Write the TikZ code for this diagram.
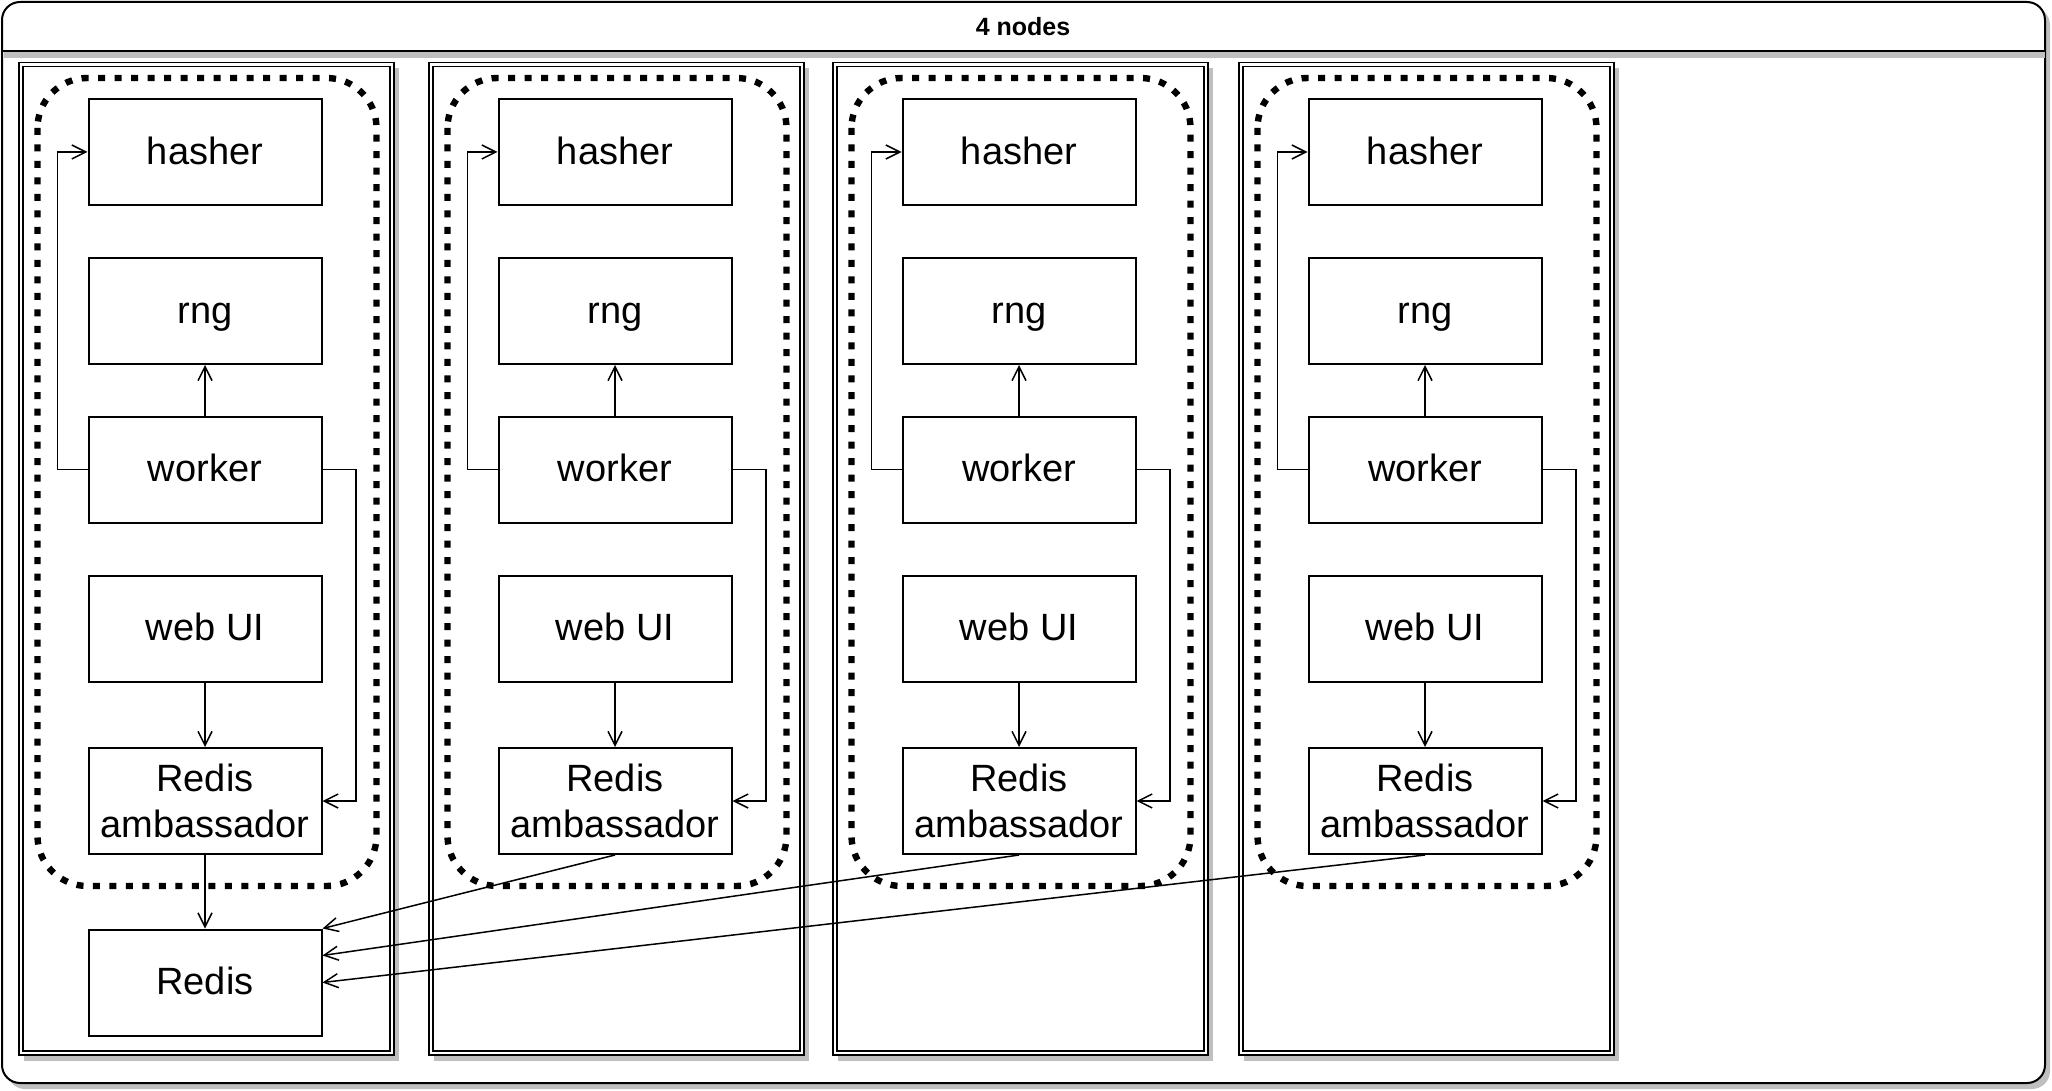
\documentclass[tikz,border=0pt]{standalone}
\usepackage{fontspec}
\setmainfont{Liberation Sans}
\usetikzlibrary{arrows.meta,calc}
\definecolor{shadowgray}{RGB}{191,191,191}
\begin{document}
\begin{tikzpicture}[x=0.5pt,y=-0.5pt,
  svc/.style={draw, line width=1pt, fill=white, minimum width=116.5pt, minimum height=53pt,
    inner sep=0pt, align=center, font=\fontsize{19}{22.6}\selectfont},
  oneline/.style={text height=14.2pt, text depth=2pt},
  conn/.style={line width=0.75pt, -{Straight Barb[length=7pt,width=7pt,line width=0.75pt]}},
  pod/.style={line width=3.2pt, dash pattern=on 3.5pt off 4.75pt, rounded corners=25pt},
  hostline/.style={line width=0.8pt},
  lane/.style={line width=1pt, rounded corners=9pt}]
\useasboundingbox (0,0) rectangle (2052,1091);
% outer swimlane
\fill[shadowgray, rounded corners=9pt] (7,7) rectangle (2050,1089);
\draw[lane, fill=white] (2,2) rectangle (2045,1083);
\fill[shadowgray] (4,51) rectangle (2045,58);
\draw[line width=1pt] (2,51) -- (2045,51);
\node[font=\bfseries\fontsize{12.5}{15}\selectfont] (title) at (1023,27) {4 nodes};
% hosts
\foreach \bx [count=\i] in {205,615,1019,1425} {
  \fill[shadowgray] (\bx-181,68.5) rectangle (\bx+194,1061);
  \draw[hostline, fill=white] (\bx-186,62.5) rectangle (\bx+189,1055);
  \draw[hostline] (\bx-182,66.5) rectangle (\bx+185,1051);
  \draw[pod] (\bx-167.5,78) rectangle (\bx+171.5,886);
  \node[svc,oneline] (h\i) at (\bx,152) {hasher};
  \node[svc,oneline] (r\i) at (\bx,311) {rng};
  \node[svc,oneline] (w\i) at (\bx,469.5) {worker};
  \node[svc,oneline] (u\i) at (\bx,628.5) {web UI};
  \node[svc] (a\i) at (\bx,801) {Redis\\ambassador};
  \draw[conn] (w\i.north) -- (r\i.south);
  \draw[conn] (u\i.south) -- (a\i.north);
  \draw[conn] (w\i.west) -- ++(-30,0) |- (h\i.west);
  \draw[conn] (w\i.east) -- ++(33.5,0) |- (a\i.east);
}
\node[svc,oneline] (redis) at (205,982.5) {Redis};
\draw[conn] (a1.south) -- (redis.north);
\draw[conn] (a2.south) -- (redis.north east);
\draw[conn] (a3.south) -- ($(redis.north east)!0.25!(redis.south east)$);
\draw[conn] (a4.south) -- (redis.east);
\end{tikzpicture}
\end{document}
